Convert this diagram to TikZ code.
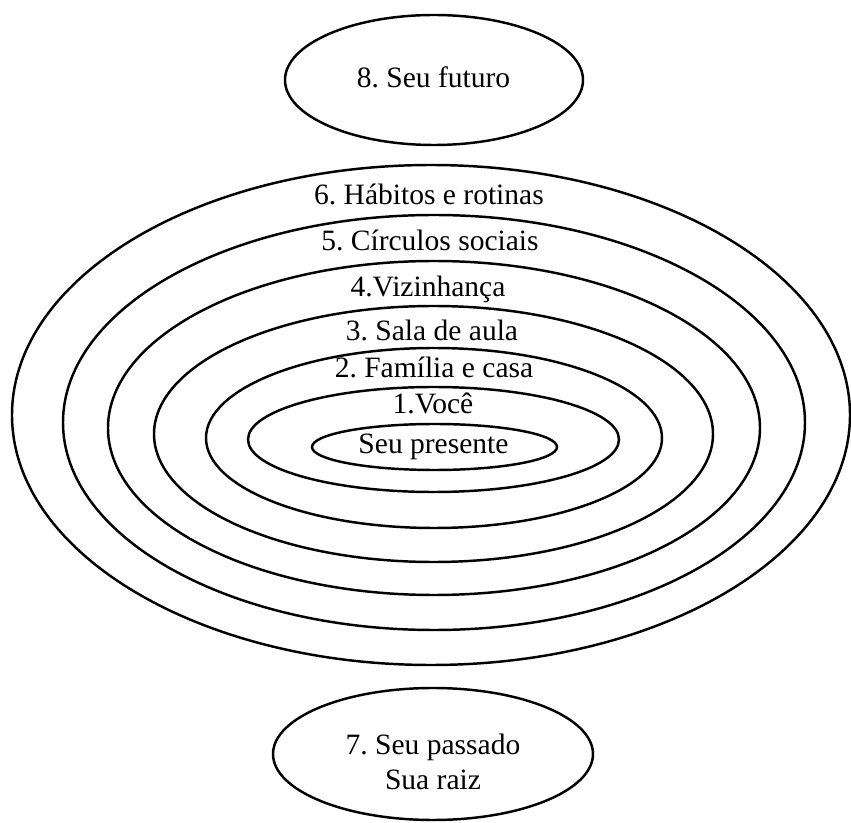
\documentclass[tikz,border=0pt]{standalone}
\usepackage{fontspec}
\setmainfont{Liberation Serif}
\usepackage{tikz}
\usetikzlibrary{shapes.geometric}
\tikzstyle{ring} = [ellipse, draw=black, line width=1.4pt, inner sep=0pt]
\tikzstyle{ringtext} = [anchor=base, inner sep=0pt, font=\fontsize{16.8}{19.9}\selectfont\frenchspacing]

\begin{document}
\begin{tikzpicture}

        \useasboundingbox (0,0) rectangle (17.02,-16.46);

        \node (futuro) [ring, minimum width=5.96cm, minimum height=2.6cm] at (8.68,-1.60) {};
        \node (t8) [ringtext] at (8.67,-1.76) {8. Seu futuro};

        \node (r6) [ring, minimum width=16.76cm, minimum height=10cm] at (8.62,-8.30) {};
        \node (r5) [ring, minimum width=14.84cm, minimum height=8.3cm] at (8.68,-8.45) {};
        \node (r4) [ring, minimum width=13.04cm, minimum height=6.68cm] at (8.68,-8.56) {};
        \node (r3) [ring, minimum width=11.18cm, minimum height=5.12cm] at (8.67,-8.68) {};
        \node (r2) [ring, minimum width=9.12cm, minimum height=3.6cm] at (8.68,-8.76) {};
        \node (r1) [ring, minimum width=7.42cm, minimum height=2.1cm] at (8.67,-8.79) {};
        \node (r0) [ring, minimum width=4.9cm, minimum height=0.92cm] at (8.69,-8.94) {};

        \node (t6) [ringtext] at (8.58,-4.10) {6. Hábitos e rotinas};
        \node (t5) [ringtext] at (8.60,-5.02) {5. Círculos sociais};
        \node (t4) [ringtext] at (8.56,-5.94) {4.Vizinhança};
        \node (t3) [ringtext] at (8.64,-6.81) {3. Sala de aula};
        \node (t2) [ringtext] at (8.68,-7.56) {2. Família e casa};
        \node (t1) [ringtext] at (8.66,-8.28) {1.Você};
        \node (t0) [ringtext] at (8.67,-9.08) {Seu presente};

        \node (passado) [ring, minimum width=6.4cm, minimum height=2.64cm] at (8.66,-15.08) {};
        \node (t7a) [ringtext] at (8.66,-15.10) {7. Seu passado};
        \node (t7b) [ringtext] at (8.66,-15.80) {Sua raiz};

    \end{tikzpicture}
\end{document}
